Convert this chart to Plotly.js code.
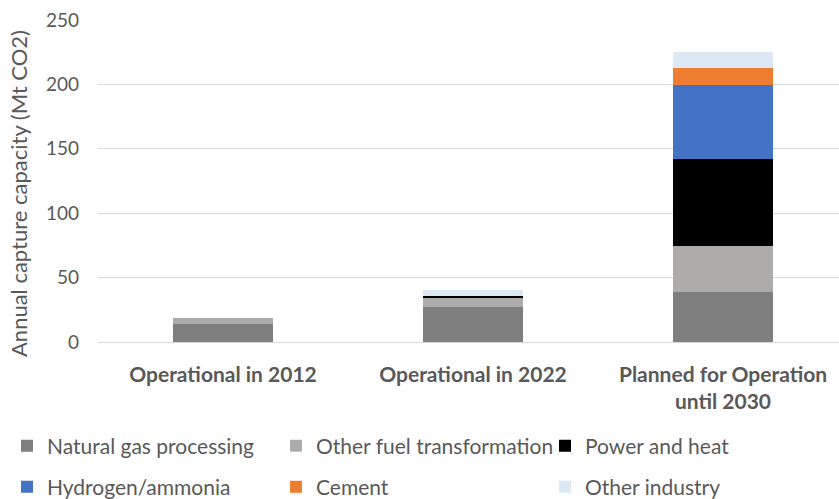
<!DOCTYPE html>
<html><head><meta charset="utf-8">
<script src="https://cdn.plot.ly/plotly-3.0.1.min.js"></script>
<style>body{margin:0;background:#fff}#chart{width:839px;height:499px}</style>
</head><body><div id="chart"></div>
<script>
const categories = ["Operational in 2012", "Operational in 2022", "Planned for Operation<br>until 2030"];
const naturalGas = [14, 27.5, 38.5];
const otherFuel = [4.3, 7, 36];
const powerHeat = [0, 1, 67.3];
const hydrogen = [0, 0, 58];
const cement = [0, 0, 12.7];
const otherIndustry = [0.3, 5, 12.5];

const seriesNames = ["Natural gas processing", "Other fuel transformation", "Power and heat", "Hydrogen/ammonia", "Cement", "Other industry"];
const seriesValues = [naturalGas, otherFuel, powerHeat, hydrogen, cement, otherIndustry];
const seriesColors = ["#7f7f7f", "#aeabab", "#000000", "#4472c4", "#ed7d31", "#dde8f5"];

const FONT = "Lato, 'Open Sans', sans-serif";
const TXT = "#595959";

const traces = seriesNames.map((n, i) => ({
  type: "bar", name: n, x: categories, y: seriesValues[i],
  marker: {color: seriesColors[i], line: {width: 0}},
  width: 0.4,
  legend: i < 3 ? "legend" : "legend2",
  hoverinfo: "name+y"
}));

const legendBase = {
  orientation: "h", xref: "paper", yref: "paper", xanchor: "left", yanchor: "middle",
  font: {family: FONT, size: 21, color: TXT}, entrywidth: 224, entrywidthmode: "pixels",
  itemwidth: 30, bgcolor: "rgba(0,0,0,0)", traceorder: "normal"
};

const layout = {
  width: 839, height: 499,
  margin: {l: 98, r: 0, t: 20, b: 157, autoexpand: false},
  paper_bgcolor: "#fff", plot_bgcolor: "#fff",
  barmode: "stack",
  font: {family: FONT, color: TXT, size: 19},
  xaxis: {
    range: [-0.5, -0.5 + 741/250], fixedrange: true, automargin: false,
    showgrid: false, showline: false, zeroline: false, ticks: "",
    tickfont: {family: FONT, size: 21, color: TXT, weight: "bold"},
    ticklabelstandoff: 18
  },
  yaxis: {
    range: [0, 250], dtick: 50, tick0: 0, automargin: false,
    showgrid: true, gridcolor: "#d9d9d9", gridwidth: 1,
    zeroline: true, zerolinecolor: "#d9d9d9", zerolinewidth: 1,
    showline: false, ticks: "",
    tickfont: {family: FONT, size: 19, color: TXT},
    ticklabelstandoff: 18
  },
  legend: Object.assign({}, legendBase, {x: (7 - 98)/741, y: (342 - 446)/322}),
  legend2: Object.assign({}, legendBase, {x: (7 - 98)/741, y: (342 - 487)/322}),
  annotations: [{
    text: "Annual capture capacity (Mt CO2)", textangle: -90,
    xref: "paper", yref: "paper", x: (18 - 98)/741, y: (342 - 194)/322,
    xanchor: "center", yanchor: "middle", showarrow: false,
    font: {family: FONT, size: 22, color: TXT}
  }],
  showlegend: true
};

Plotly.newPlot("chart", traces, layout, {displayModeBar: false, staticPlot: true});
</script></body></html>
